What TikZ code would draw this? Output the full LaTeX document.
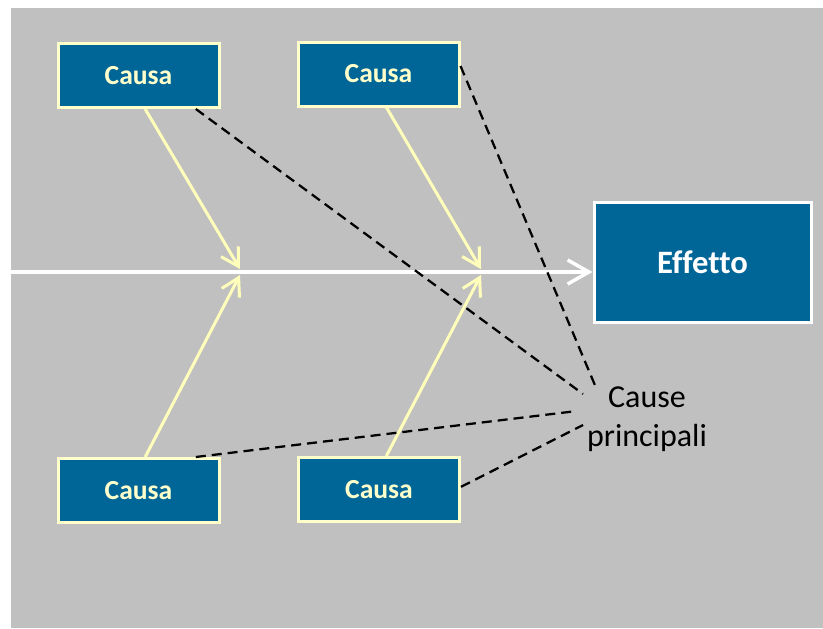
\documentclass[tikz,border=0pt]{standalone}
\usepackage{fontspec}
\setmainfont[Ligatures=NoCommon]{Carlito}
\usetikzlibrary{arrows.meta}

\tikzset{every picture/.style={line width=0.75pt}}
\tikzset{
  causa/.style={draw={rgb, 255:red, 255; green, 255; blue, 204 }, line width=2.25pt, fill={rgb, 255:red, 0; green, 101; blue, 151 }, text={rgb, 255:red, 255; green, 255; blue, 204 }, font=\fontsize{20.7}{24}\selectfont\bfseries, minimum width=120.75pt, minimum height=48pt, inner sep=0pt},
  effetto/.style={draw=white, line width=2.25pt, fill={rgb, 255:red, 0; green, 101; blue, 151 }, text=white, font=\fontsize{24.5}{28}\selectfont\bfseries, minimum width=162.75pt, minimum height=90pt, inner sep=0pt},
  spina/.style={draw={rgb, 255:red, 255; green, 255; blue, 187 }, line width=2.25pt, -{Straight Barb[length=13pt,width=15pt,line width=2.25pt]}},
  legame/.style={draw=black, line width=1.7pt, dash pattern=on 7.5pt off 4.5pt}
}

\begin{document}
\begin{tikzpicture}[x=0.75pt,y=0.75pt,yscale=-1,xscale=1]
\useasboundingbox (0,0) rectangle (823,628);

%Shape: Rectangle [background]
\fill [color={rgb, 255:red, 192; green, 192; blue, 192 }] (11,8) rectangle (823,628);

% Boxes
\draw (138.5,75.5) node [causa] (c1) {Causa};
\draw (378.5,74) node [causa] (c2) {Causa};
\draw (138.5,490.5) node [causa] (c3) {Causa};
\draw (379,489.5) node [causa] (c4) {Causa};
\draw (702.5,262) node [effetto] (eff) {Effetto};

% Text Node
\draw (647,419) node [align=center, font=\fontsize{24}{29.5}\selectfont] (lbl) {Cause\\principali};

% points on the spine
\coordinate (coda) at (11,272);
\coordinate (testa) at (eff.west |- coda);
\coordinate (j1a) at (240,269);
\coordinate (j1b) at (240,275);
\coordinate (j2a) at (481,269);
\coordinate (j2b) at (481,275);

%Straight Lines [spine]
\draw [draw=white, line width=2.6pt, -{Straight Barb[length=16pt,width=18pt,line width=2.6pt]}] (coda) -- (testa);

%Straight Lines [branches]
\draw [spina] ([xshift=5pt]c1.south) -- (j1a);
\draw [spina] ([xshift=5pt]c3.north) -- (j1b);
\draw [spina] ([xshift=6pt]c2.south) -- (j2a);
\draw [spina] ([xshift=5.5pt]c4.north) -- (j2b);

% ends of dashed lines near the label
\coordinate (d1) at (583,394);
\coordinate (d2) at (597,390);
\coordinate (d3) at (577,411);
\coordinate (d4) at (583,425);

%Straight Lines [dashed]
\draw [legame] ([xshift=43pt]c1.south) -- (d1);
\draw [legame] ([yshift=-6pt]c2.east) -- (d2);
\draw [legame] ([xshift=43pt]c3.north) -- (d3);
\draw [legame] ([yshift=-2pt]c4.east) -- (d4);

\end{tikzpicture}
\end{document}
